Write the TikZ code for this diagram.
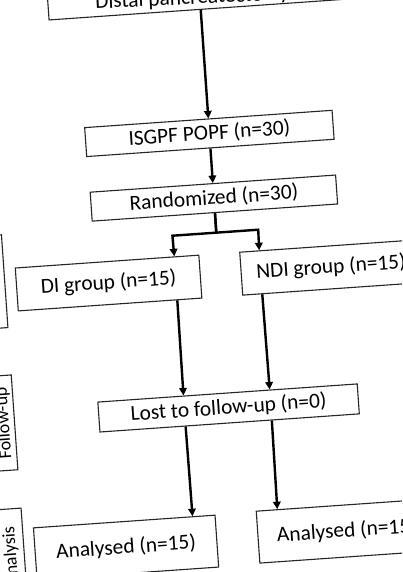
\documentclass[tikz,border=0pt]{standalone}
\usepackage{fontspec}
\setmainfont{Carlito}
\usetikzlibrary{arrows.meta,calc}
\begin{document}
\begin{tikzpicture}[x=1pt,y=1pt,
  box/.style={draw=black!85, line width=1.1pt, inner sep=2pt, font=\fontsize{21.4}{25}\selectfont, transform shape},
  side/.style={draw=black!85, line width=1.1pt, inner sep=2pt, font=\fontsize{18}{22}\selectfont, rotate=90, transform shape},
  txt/.style={inner sep=0pt, font=\fontsize{21.4}{25}\selectfont, transform shape},
  arr/.style={line width=2.4pt, -{Triangle[length=7.5pt,width=7.5pt]}},
  ln/.style={line width=2.4pt}]
\useasboundingbox (0,0) rectangle (402,-572);
\clip (0,0) rectangle (402,-572);
\fill[white] (0,0) rectangle (402,-572);
\begin{scope}[rotate around={4:(201,-286)}]
  % main flow
  \node[box, minimum width=304pt, minimum height=44pt] (top) at (220,12) {};
  \node[txt, anchor=base west, rotate=-1.2] (toptxt) at (115,-2.2) {Distal pancreatectomy};
  \node[box, minimum width=248pt, minimum height=29pt] (isg) at (220,-134.4) {ISGPF POPF (n=30)};
  \node[box, minimum width=246pt, minimum height=29pt] (rand) at (220,-199.2) {Randomized (n=30)};
  \node[box, minimum width=184pt, minimum height=43pt] (di) at (109,-276.6) {DI group (n=15)};
  \node[box, minimum width=180pt, minimum height=43pt] (ndi) at (332,-276.5) {NDI group (n=15)};
  \node[box, minimum width=260pt, minimum height=30pt] (lost) at (220,-409.6) {Lost to follow-up (n=0)};
  \node[box, minimum width=182pt, minimum height=52pt] (anl) at (108,-541.6) {Analysed (n=15)};
  \node[box, minimum width=178pt, minimum height=52pt] (anr) at (329.4,-540.5) {Analysed (n=15)};
  % side labels
  \node[side, minimum width=93pt, minimum height=21pt] (alloc) at (-5,-267.5) {};
  \node[side, minimum width=95pt, minimum height=21pt] (fup) at (-5,-409) {Follow-up};
  \node[side, minimum width=95pt, minimum height=26pt] (ana) at (-7,-542.5) {Analysis};
  % connectors
  \draw[arr] (top.south) -- (isg.north);
  \draw[arr] (isg.south) -- (rand.north);
  \draw[arr] (rand.south) -- ++(0,-19.6) -- ++(-44,0) -- ($(di.north west)!0.864!(di.north east)$);
  \draw[arr] (rand.south) -- ++(0,-19.6) -- ++(42,0) -- ($(ndi.north west)!0.111!(ndi.north east)$);
  \draw[arr] ($(di.south west)!0.864!(di.south east)$) -- ($(lost.north west)!0.331!(lost.north east)$);
  \draw[arr] ($(ndi.south west)!0.111!(ndi.south east)$) -- ($(lost.north west)!0.662!(lost.north east)$);
  \draw[arr] ($(lost.south west)!0.331!(lost.south east)$) -- ($(anl.north west)!0.874!(anl.north east)$);
  \draw[arr] ($(lost.south west)!0.662!(lost.south east)$) -- ($(anr.north west)!0.121!(anr.north east)$);
\end{scope}
\end{tikzpicture}
\end{document}
